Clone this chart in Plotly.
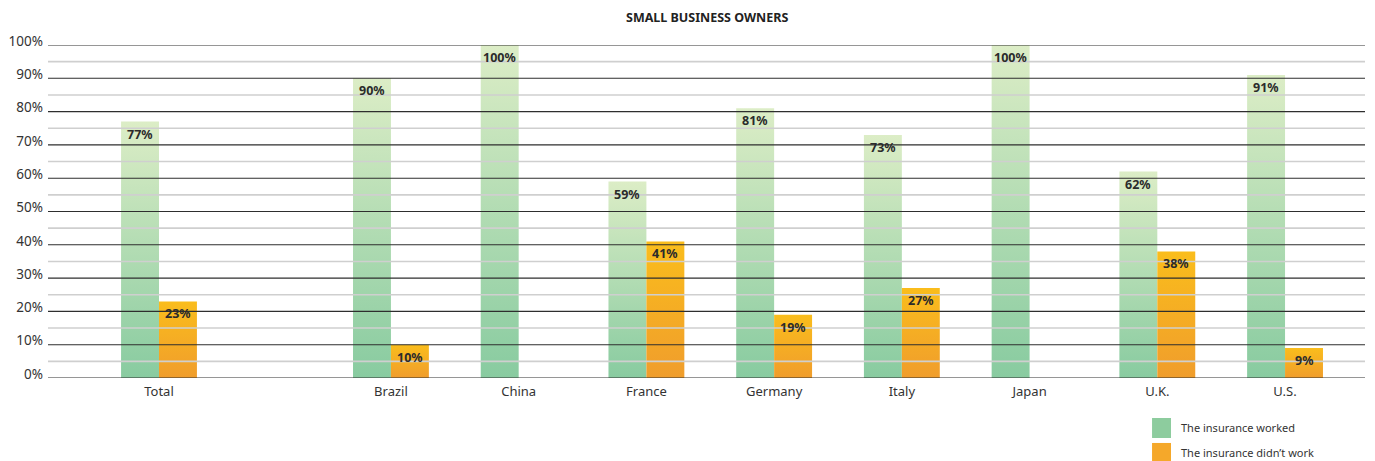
import plotly.graph_objects as go

categories = ["Total", "Brazil", "China", "France", "Germany", "Italy", "Japan", "U.K.", "U.S."]
worked = [77, 90, 100, 59, 81, 73, 100, 62, 91]
didnt_work = [23, 10, None, 41, 19, 27, None, 38, 9]
series_names = ["The insurance worked", "The insurance didn’t work"]
legend_colors = ["#8dcc9e", "#f5a82a"]
y_ticks = list(range(0, 101, 10))

GAP = 1.816          # extra spacing after "Total"
BAR_W = 0.297        # width of one bar in category units
pos = [0.0] + [GAP + i - 1 for i in range(1, len(categories))]

green_scale = [[0, "#88cba0"], [1, "#dcedc6"]]
orange_scale = [[0, "#f09d2c"], [1, "#fabd1c"]]

fig = go.Figure()
annotations = []

def add_series(values, name, scale, solid, side):
    for x, v in zip(pos, values):
        if v is None:
            continue
        x0 = x - BAR_W if side < 0 else x
        x1 = x0 + BAR_W
        fig.add_trace(go.Scatter(
            x=[x0, x1, x1, x0, x0], y=[0, 0, v, v, 0],
            mode="lines", fill="toself", line=dict(width=0),
            fillcolor=solid,
            fillgradient=dict(type="vertical", colorscale=scale, start=0, stop=v),
            name=name, showlegend=False, hoverinfo="skip"))
        annotations.append(dict(
            x=(x0 + x1) / 2, y=v, xref="x", yref="y", text=f"<b>{v}%</b>",
            showarrow=False, yanchor="top", yshift=-2,
            font=dict(family="Noto Sans", size=12.5, color="#2b2b2b")))

add_series(worked, series_names[0], green_scale, legend_colors[0], -1)
add_series(didnt_work, series_names[1], orange_scale, legend_colors[1], 1)

shapes = []
for yv in range(0, 101, 5):
    major = yv % 10 == 0
    shapes.append(dict(type="line", xref="paper", yref="y", x0=0, x1=1, y0=yv, y1=yv,
                       layer="above",
                       line=dict(color="#2e2e2e" if major else "#cfcfcf",
                                 width=1.1 if major else 1.6)))

# manual legend (squares + labels) in the bottom-right corner, paper coords
LEG_X, LEG_Y, LEG_STEP, LEG_SZ, LEG_W = 0.8383, -0.1201, 0.075, 0.060, 0.0144
for i, (nm, col) in enumerate(zip(series_names, legend_colors)):
    ytop = LEG_Y - i * LEG_STEP
    shapes.append(dict(type="rect", xref="paper", yref="paper",
                       x0=LEG_X, x1=LEG_X + LEG_W, y0=ytop - LEG_SZ, y1=ytop,
                       line=dict(width=0), fillcolor=col, layer="above"))
    annotations.append(dict(text=nm, xref="paper", yref="paper",
                            x=LEG_X + 0.0205, y=ytop - LEG_SZ / 2, xanchor="left",
                            yanchor="middle", showarrow=False,
                            font=dict(size=11, color="#333333")))

annotations.append(dict(text="<b>SMALL BUSINESS OWNERS</b>", xref="paper", yref="paper",
                        x=0.5, y=1, yanchor="middle", yshift=28, showarrow=False,
                        font=dict(size=12.5, color="#222222")))

fig.update_layout(
    width=1375, height=461,
    margin=dict(l=40, r=18, t=37, b=91, autoexpand=False),
    paper_bgcolor="white", plot_bgcolor="white",
    font=dict(family="Noto Sans", color="#333333"),
    shapes=shapes, annotations=annotations,
    showlegend=False,
)
fig.update_xaxes(range=[-0.869, 9.442], tickvals=pos, ticktext=categories,
                 showgrid=False, zeroline=False, showline=False, automargin=False,
                 tickfont=dict(size=13, color="#333333"), ticks="", ticklabelstandoff=4)
fig.update_yaxes(range=[0, 100], tickvals=y_ticks, ticktext=[f"{t}%" for t in y_ticks],
                 showgrid=False, zeroline=False, showline=False, ticks="", automargin=False,
                 tickfont=dict(size=13.5, color="#333333"), ticklabelstandoff=4,
                 ticklabelshift=-4)

fig.write_html("out.html")
